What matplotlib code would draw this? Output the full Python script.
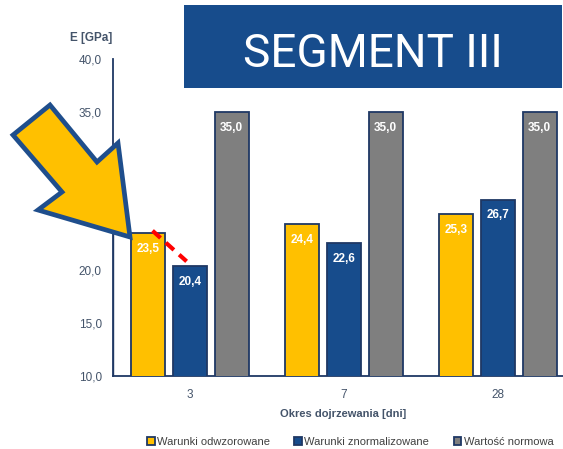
import matplotlib
matplotlib.use("Agg")
import matplotlib.pyplot as plt
from matplotlib.patches import Polygon, Rectangle
import numpy as np

plt.rcParams['font.family'] = ['Liberation Sans', 'DejaVu Sans']

# Data
periods = ["3", "7", "28"]
series_names = ["Warunki odwzorowane", "Warunki znormalizowane", "Wartość normowa"]
odwzorowane = [23.5, 24.4, 25.3]
znormalizowane = [20.4, 22.6, 26.7]
normowa = [35.0, 35.0, 35.0]
y_ticks = [10, 15, 20, 25, 30, 35, 40]

colors = ["#FFC000", "#174C8C", "#7F7F7F"]
edge = "#1F3864"
label_col = "#44546A"

W, H, DPI = 563, 449, 100
fig = plt.figure(figsize=(W / DPI, H / DPI), dpi=DPI)

# axes extends past the right edge of the canvas
ax = fig.add_axes([113 / W, 1 - 376 / H, 462 / W, 317 / H])

x = np.arange(len(periods))
offset = 0.27
width = 0.22
values = [odwzorowane, znormalizowane, normowa]
bars_all = []
for i, (vals, c, name) in enumerate(zip(values, colors, series_names)):
    bars = ax.bar(x + (i - 1) * offset, vals, width=width, bottom=0, color=c,
                  edgecolor=edge, linewidth=1.3, label=name, zorder=3)
    bars_all.append(bars)
    for b, v in zip(bars, vals):
        ax.annotate(f"{v:.1f}".replace(".", ","),
                    (b.get_x() + b.get_width() / 2, v),
                    xytext=(0, -7), textcoords="offset points",
                    ha="center", va="top", color="white",
                    fontsize=8.5, fontweight="bold", zorder=5)

# white framed box next to the first bar
first = bars_all[0][0]
ax.add_patch(Rectangle((-0.5, 0), first.get_x() - (-0.5), odwzorowane[0],
                       facecolor="white", edgecolor=edge, linewidth=1.0, zorder=2))

# red dashed link between the first two bars
b0 = bars_all[0][0]
b1 = bars_all[1][0]
ax.plot([b0.get_x() + b0.get_width() * 0.62, b1.get_x() + b1.get_width() * 0.4],
        [odwzorowane[0] + 0.25, znormalizowane[0] + 0.45],
        color="#FF0000", linewidth=3.0, linestyle=(0, (2.6, 1.7)), zorder=6,
        solid_capstyle="butt")

ax.set_xlim(-0.5, 2.5)
ax.set_ylim(10, 40)
ax.set_yticks(y_ticks)
ax.set_yticklabels([f"{t:.1f}".replace(".", ",") for t in y_ticks])
ax.set_xticks(x)
ax.set_xticklabels(periods)
ax.tick_params(axis="both", length=0, labelsize=8.5, colors=label_col)
ax.tick_params(axis="y", pad=8)
ax.tick_params(axis="x", pad=9)
for s in ["top", "right"]:
    ax.spines[s].set_visible(False)
for s in ["left", "bottom"]:
    ax.spines[s].set_color(edge)
    ax.spines[s].set_linewidth(1.3)
ax.set_xlabel("Okres dojrzewania [dni]", fontsize=8, fontweight="bold",
              color=label_col)
ax.xaxis.set_label_coords(230 / 462, -38 / 317)
ax.xaxis.label.set_va("center")

fig.text(91 / W, 1 - 38 / H, "E [GPa]", fontsize=8.5, fontweight="bold",
         color=label_col, ha="center", va="center")

leg = fig.legend(handles=[b[0] for b in bars_all], labels=series_names,
                 loc="center", bbox_to_anchor=(350 / W, 1 - 442 / H), ncol=3,
                 frameon=False, fontsize=8, handlelength=0.7, handleheight=0.7,
                 handletextpad=0.2, columnspacing=2.2)
for t in leg.get_texts():
    t.set_color("#404040")

# title box
fig.patches.append(Rectangle((184 / W, 1 - 88 / H), (562 - 184) / W, 83 / H,
                             transform=fig.transFigure, facecolor="#174C8C",
                             edgecolor="none", zorder=10))
fig.text(373 / W, 1 - 67 / H, "SEGMENT III", fontsize=33, color="white",
         family=["Roboto", "Liberation Sans"],
         ha="center", va="baseline", zorder=11)

# highlight arrow (pixel coordinates on the canvas)
arrow_px = [(130, 237), (118, 143), (97, 162), (50, 105), (13, 135),
            (62, 192), (38, 210)]
arrow = Polygon([(px / W, 1 - py / H) for px, py in arrow_px], closed=True,
                transform=fig.transFigure, facecolor="#FFC000",
                edgecolor="#1F4E8C", linewidth=3.4, joinstyle="miter", zorder=20)
fig.patches.append(arrow)

fig.savefig("out.png", dpi=DPI)
